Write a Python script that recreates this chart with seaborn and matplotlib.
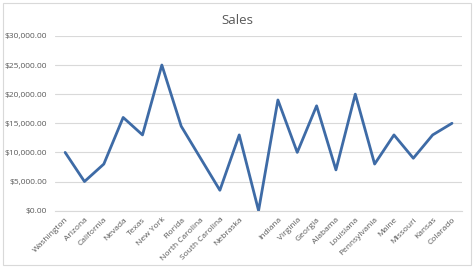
import matplotlib
matplotlib.use("Agg")
import matplotlib.pyplot as plt
import seaborn as sns
import numpy as np
import pandas as pd
from matplotlib.patches import Rectangle
from matplotlib.ticker import FuncFormatter

states = ["Washington", "Arizona", "California", "Nevada", "Texas", "New York",
          "Florida", "North Carolina", "South Carolina", "Nebraska", "",
          "Indiana", "Virginia", "Georgia", "Alabama", "Louisiana",
          "Pennsylvania", "Maine", "Missouri", "Kansas", "Colarado"]
sales = [10000, 5000, 8000, 16000, 13000, 25000, 14500, 9000, 3500, 13000, 0,
         19000, 10000, 18000, 7000, 20000, 8000, 13000, 9000, 13000, 15000]
y_ticks = [0, 5000, 10000, 15000, 20000, 25000, 30000]

sns.set_theme(style="white")
plt.rcParams['font.family'] = ['Open Sans', 'DejaVu Sans']

df = pd.DataFrame({"pos": np.arange(len(states)), "sales": sales})

fig = plt.figure(figsize=(4.74, 2.68), dpi=100)
ax = fig.add_axes([0.117, 0.214, 0.857, 0.652])
sns.lineplot(data=df, x="pos", y="sales", ax=ax, color="#3E6BA6", linewidth=2.0)

ax.set_xlim(-0.5, len(states) - 0.5)
ax.set_ylim(0, 30000)
ax.set_yticks(y_ticks)
ax.yaxis.set_major_formatter(FuncFormatter(lambda v, p: f"${v:,.2f}"))
ax.set_xticks(np.arange(len(states)))
ax.set_xticklabels(states, rotation=45, ha="right", rotation_mode="anchor")
ax.tick_params(axis="both", length=0, labelsize=6, colors="#595959")
ax.tick_params(axis="x", pad=4)
ax.tick_params(axis="y", pad=6)
ax.grid(axis="y", color="#D9D9D9", linewidth=0.8)
ax.set_axisbelow(True)
for s in ["top", "right", "left"]:
    ax.spines[s].set_visible(False)
ax.spines["bottom"].set_color("#D9D9D9")
ax.spines["bottom"].set_linewidth(0.8)
ax.set_xlabel("")
ax.set_ylabel("")

fig.text(0.5, 0.925, "Sales", ha="center", va="center", fontsize=9.5, color="#595959")
fig.patches.append(Rectangle((0.006, 0.01), 0.988, 0.98, transform=fig.transFigure,
                             fill=False, edgecolor="#D9D9D9", linewidth=0.8))

fig.savefig("out.png", dpi=100)
